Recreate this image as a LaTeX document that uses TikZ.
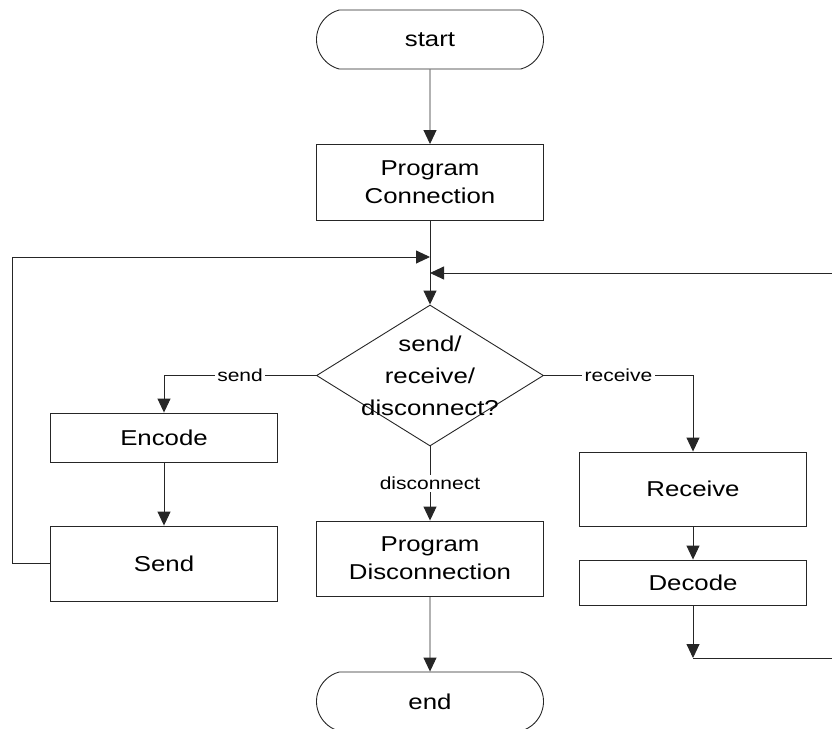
\documentclass[tikz,border=0pt]{standalone}
\usepackage{fontspec}
\usepackage{tikz}
\usetikzlibrary{arrows.meta,shapes.geometric,shapes.misc}
\newfontfamily\flowfont{Liberation Sans}[FakeStretch=1.2]
\tikzset{
  flowline/.style  = {line width=0.9pt,draw=black!85},
  flowarr/.style   = {flowline,-{Triangle[length=14pt,width=13pt]}},
  procbox/.style   = {draw,flowline,rectangle,inner sep=0pt,minimum width=227pt,
                      align=center,font=\flowfont\fontsize{21.5}{28}\selectfont},
  termbox/.style   = {procbox,rounded rectangle,rounded rectangle arc length=150,minimum height=59pt},
  decbox/.style    = {draw,flowline,diamond,inner sep=0pt,minimum width=227pt,minimum height=141pt},
  dectext/.style   = {align=center,font=\flowfont\fontsize{21.5}{32}\selectfont},
  edgelabel/.style = {fill=white,inner sep=2.5pt,font=\flowfont\fontsize{17.5}{20}\selectfont}
}

\begin{document}
\begin{tikzpicture}[x=1pt,y=-1pt]
  \useasboundingbox (0,0) rectangle (832,728);
  \clip (0,0) rectangle (832,728);
  % main column
  \node[termbox]                      (start) at (430,39.5)  {start};
  \node[procbox,minimum height=76pt]  (pconn) at (430,182.5) {Program\\Connection};
  \coordinate (mergeL) at (430,257);
  \coordinate (mergeR) at (430,273);
  \node[decbox]                       (dec)   at (430,375.5) {};
  \node[dectext]                      (dectxt) at (dec.center) {send/\\receive/\\disconnect?};
  \node[procbox,minimum height=75pt]  (pdisc) at (430,558.5) {Program\\Disconnection};
  \node[termbox]                      (stop)  at (430,701.5) {end};
  % send branch
  \node[procbox,minimum height=49pt]  (enc)   at (164,437.5) {Encode};
  \node[procbox,minimum height=75pt]  (snd)   at (164,563.5) {Send};
  % receive branch
  \node[procbox,minimum height=74pt]  (rcv)   at (693,489)   {Receive};
  \node[procbox,minimum height=45pt]  (dcd)   at (693,582.5) {Decode};
  \coordinate (rjoin) at (693,658);

  \draw[flowarr] (start) -- (pconn);
  \draw[flowarr] (pconn) -- (dec.north);
  \draw[flowarr] (dec.west) -| node[edgelabel,pos=0.25]{send} (enc.north);
  \draw[flowarr] (dec.east) -| node[edgelabel,pos=0.25]{receive} (rcv.north);
  \draw[flowarr] (dec.south) -- node[edgelabel]{disconnect} (pdisc.north);
  \draw[flowarr] (pdisc) -- (stop);
  \draw[flowarr] (enc) -- (snd);
  \draw[flowarr] (snd.west) -- ++(-38,0) |- (mergeL);
  \draw[flowarr] (rcv) -- (dcd);
  \draw[flowarr] (dcd) -- (rjoin);
  \draw[flowarr] (rjoin) -- ++(160,0) |- (mergeR);
\end{tikzpicture}
\end{document}
